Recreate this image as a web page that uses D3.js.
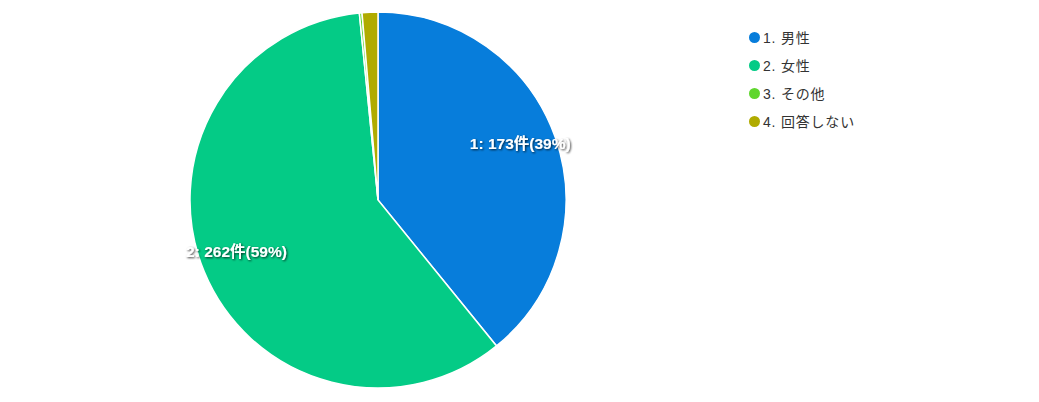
<!DOCTYPE html>
<html><head><meta charset="utf-8">
<script src="https://cdn.jsdelivr.net/npm/d3@7"></script>
<style>
html,body{margin:0;padding:0;background:#fff;}
svg{display:block;font-family:"Liberation Sans",Arial,"Noto Sans CJK JP",sans-serif;}
</style></head>
<body>
<svg id="chart" width="1039" height="402"></svg>
<script>
const categories = ["1. 男性", "2. 女性", "3. その他", "4. 回答しない"];
const values = [173, 262, 1, 6];
const labelText = ["1: 173件(39%)", "2: 262件(59%)", "", ""];
const colors = ["#077ddb", "#04cb86", "#5fd62e", "#b0ab00"];

const svg = d3.select("#chart");
const cx = 378, cy = 200, R = 188;

const defs = svg.append("defs");
const f = defs.append("filter").attr("id","sh").attr("x","-20%").attr("y","-50%").attr("width","140%").attr("height","200%");
f.append("feDropShadow").attr("dx",1).attr("dy",1).attr("stdDeviation",1.2).attr("flood-color","#000").attr("flood-opacity",0.75);

const pie = d3.pie().sort(null).value(d => d)(values);
const arc = d3.arc().innerRadius(0).outerRadius(R);
const labelArc = d3.arc().innerRadius(152).outerRadius(152);

const g = svg.append("g").attr("transform", `translate(${cx},${cy})`);
g.selectAll("path").data(pie).join("path")
  .attr("d", arc)
  .attr("fill", (d,i) => colors[i])
  .attr("stroke", "#fff")
  .attr("stroke-width", 1.5);

g.selectAll("text.lbl").data(pie).join("text")
  .attr("class","lbl")
  .attr("x", d => labelArc.centroid(d)[0] - 1)
  .attr("y", d => labelArc.centroid(d)[1] - 6)
  .attr("text-anchor","middle")
  .attr("dominant-baseline","central")
  .attr("fill","#fff")
  .attr("font-weight","bold")
  .attr("font-size", 15.5)
  .attr("filter","url(#sh)")
  .text((d,i) => labelText[i]);

const lg = svg.append("g").attr("transform","translate(754.5,37.5)");
const item = lg.selectAll("g").data(categories).join("g")
  .attr("transform",(d,i)=>`translate(0,${i*28})`);
item.append("circle").attr("r",5.5).attr("fill",(d,i)=>colors[i]);
item.append("text").attr("x",8.5).attr("y",0).attr("dominant-baseline","central")
  .attr("font-size",14).attr("letter-spacing",0.8).attr("fill","#333").text(d=>d);
</script>
</body></html>
